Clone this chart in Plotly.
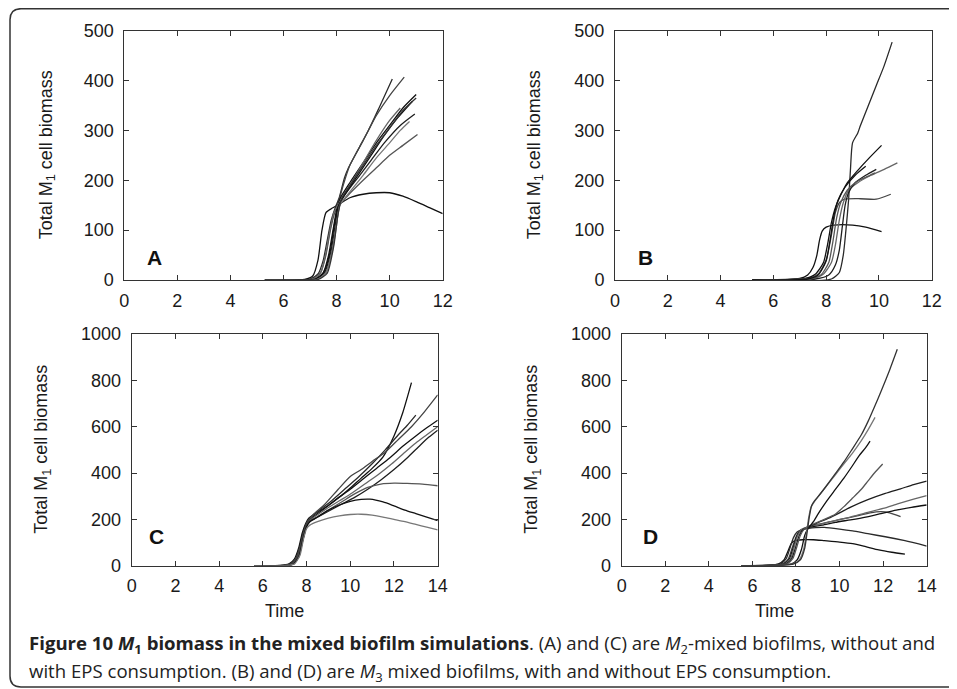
import plotly.graph_objects as go

# ---------------- data ----------------
A_time = [
    [5.3, 6.8, 7.1, 7.3, 7.45, 7.6, 7.8, 8.1, 8.5, 9.0, 9.5, 10.0, 10.5, 11.0, 11.5, 12.0],
    [5.3, 7.0, 7.3, 7.5, 7.65, 7.8, 7.95, 8.1, 8.3, 8.45, 8.8, 9.2, 9.6, 10.1],
    [5.3, 7.1, 7.4, 7.6, 7.75, 7.9, 8.05, 8.25, 8.5, 9.0, 9.5, 10.0, 10.55],
    [5.3, 7.2, 7.5, 7.7, 7.85, 8.0, 8.15, 8.5, 9.0, 9.5, 10.0, 10.5, 11.0],
    [5.3, 7.1, 7.4, 7.6, 7.75, 7.9, 8.1, 8.5, 9.0, 9.5, 10.0, 10.4],
    [5.3, 7.2, 7.55, 7.8, 7.95, 8.08, 8.3, 8.8, 9.3, 9.8, 10.4, 10.95],
    [5.3, 7.3, 7.6, 7.85, 8.0, 8.12, 8.4, 9.0, 9.5, 10.0, 10.5, 11.05],
    [5.3, 7.2, 7.5, 7.75, 7.9, 8.05, 8.3, 8.8, 9.3, 9.8, 10.3, 10.85],
    [5.3, 7.25, 7.6, 7.85, 8.0, 8.12, 8.4, 9.0, 9.5, 10.0, 10.4, 10.75],
    [5.3, 7.3, 7.65, 7.9, 8.05, 8.2, 8.5, 9.0, 9.5, 10.0, 10.5, 11.0],
]
A_biomass = [
    [0, 1, 8, 40, 100, 135, 143, 152, 165, 172, 175, 175, 168, 157, 145, 133],
    [0, 2, 12, 40, 80, 120, 145, 165, 205, 225, 260, 300, 345, 403],
    [0, 2, 15, 50, 95, 130, 152, 190, 230, 280, 330, 370, 407],
    [0, 2, 15, 50, 95, 140, 165, 195, 235, 275, 310, 345, 372],
    [0, 2, 15, 55, 100, 135, 155, 190, 235, 280, 320, 345],
    [0, 1, 15, 60, 110, 150, 170, 205, 240, 275, 310, 333],
    [0, 2, 15, 65, 115, 150, 168, 200, 225, 250, 270, 292],
    [0, 2, 14, 55, 105, 145, 170, 210, 250, 290, 325, 358],
    [0, 1, 14, 60, 110, 150, 170, 210, 245, 275, 300, 318],
    [0, 1, 14, 70, 130, 165, 190, 230, 270, 305, 340, 365],
]

B_time = [
    [5.2, 7.0, 7.3, 7.5, 7.65, 7.75, 7.85, 8.0, 8.3, 9.0, 9.5, 10.1],
    [5.2, 8.2, 8.5, 8.65, 8.75, 8.85, 8.92, 9.0, 9.2, 9.3, 9.6, 9.9, 10.2, 10.5],
    [5.2, 7.3, 7.7, 8.0, 8.2, 8.35, 8.5, 8.7, 9.3, 9.9, 10.45],
    [5.2, 7.2, 7.6, 7.9, 8.05, 8.2, 8.35, 8.55, 8.8, 9.2, 9.6, 10.1],
    [5.2, 7.5, 7.9, 8.2, 8.35, 8.5, 8.65, 8.85, 9.2, 9.7, 10.2, 10.7],
    [5.2, 7.6, 8.1, 8.35, 8.5, 8.62, 8.72, 8.85, 9.1, 9.5, 9.9],
    [5.2, 7.4, 7.8, 8.1, 8.25, 8.4, 8.55, 8.8, 9.1, 9.5, 9.85],
    [5.2, 7.3, 7.7, 8.0, 8.15, 8.3, 8.45, 8.7, 9.1, 9.5],
]
B_biomass = [
    [0, 3, 10, 25, 50, 80, 98, 106, 110, 110, 106, 97],
    [0, 2, 15, 50, 100, 160, 220, 275, 295, 310, 350, 390, 430, 477],
    [0, 3, 12, 40, 90, 135, 155, 162, 163, 162, 172],
    [0, 3, 12, 35, 70, 115, 145, 170, 195, 220, 243, 270],
    [0, 3, 12, 35, 70, 120, 155, 180, 195, 210, 222, 235],
    [0, 2, 10, 30, 60, 110, 150, 175, 195, 210, 222],
    [0, 2, 10, 35, 75, 125, 155, 180, 195, 206, 215],
    [0, 2, 10, 38, 80, 130, 160, 185, 210, 228],
]

C_time = [
    [5.6, 6.8, 7.2, 7.45, 7.65, 7.8, 7.95, 8.1, 8.4, 9.0, 9.5, 10.0, 10.5, 11.0, 11.5, 12.0, 12.4, 12.8],
    [5.6, 6.9, 7.25, 7.5, 7.7, 7.85, 8.0, 8.2, 8.6, 9.2, 9.8, 10.4, 11.0, 11.6, 12.2, 12.6, 13.0],
    [5.6, 6.9, 7.3, 7.55, 7.75, 7.9, 8.05, 8.3, 8.8, 9.45, 10.0, 10.5, 11.0, 11.6, 12.2, 12.8, 13.4, 14.0],
    [5.6, 7.0, 7.35, 7.6, 7.78, 7.93, 8.08, 8.3, 8.8, 9.4, 10.0, 10.6, 11.2, 11.8, 12.4, 13.0, 13.5, 14.0],
    [5.6, 7.0, 7.35, 7.62, 7.8, 7.95, 8.1, 8.35, 8.9, 9.5, 10.1, 10.7, 11.3, 11.9, 12.5, 13.0, 13.5, 14.0],
    [5.6, 7.05, 7.4, 7.65, 7.82, 7.97, 8.12, 8.4, 9.0, 9.6, 10.2, 10.8, 11.4, 12.0, 12.6, 13.2, 13.6, 14.0],
    [5.6, 7.0, 7.35, 7.6, 7.78, 7.93, 8.08, 8.4, 9.0, 9.6, 10.2, 10.8, 11.4, 12.0, 12.6, 13.3, 14.0],
    [5.6, 7.05, 7.4, 7.65, 7.82, 7.98, 8.15, 8.5, 9.0, 9.5, 10.0, 10.5, 10.9, 11.5, 12.0, 12.5, 13.0, 13.5, 14.0],
    [5.6, 7.1, 7.45, 7.7, 7.86, 8.0, 8.15, 8.5, 9.0, 9.5, 10.0, 10.5, 11.0, 11.5, 12.0, 12.5, 13.0, 13.5, 14.0],
]
C_biomass = [
    [0, 1, 8, 30, 80, 140, 180, 205, 225, 260, 295, 335, 378, 420, 470, 560, 660, 790],
    [0, 1, 8, 30, 85, 145, 185, 210, 240, 285, 335, 385, 440, 500, 565, 605, 650],
    [0, 1, 8, 35, 95, 150, 190, 220, 262, 330, 385, 415, 450, 490, 545, 600, 665, 737],
    [0, 1, 8, 35, 95, 150, 188, 210, 245, 290, 330, 375, 420, 465, 515, 560, 595, 628],
    [0, 1, 7, 35, 100, 155, 190, 210, 245, 280, 315, 355, 395, 440, 490, 530, 565, 600],
    [0, 1, 8, 40, 105, 160, 190, 205, 235, 265, 295, 330, 370, 415, 465, 520, 555, 585],
    [0, 1, 8, 35, 100, 155, 185, 205, 240, 275, 310, 338, 352, 356, 355, 352, 345],
    [0, 1, 8, 40, 110, 165, 190, 210, 240, 262, 278, 286, 287, 275, 258, 240, 225, 210, 195],
    [0, 1, 8, 45, 115, 160, 175, 190, 205, 215, 221, 222, 218, 210, 200, 190, 178, 166, 155],
]

D_time = [
    [5.5, 6.8, 7.2, 7.45, 7.62, 7.78, 7.95, 8.3, 8.8, 9.3, 10.0, 10.6, 11.2, 11.8, 12.4, 13.0],
    [5.5, 6.9, 7.3, 7.55, 7.72, 7.88, 8.05, 8.4, 8.9, 9.3, 10.0, 10.6, 11.3, 12.1, 13.0, 14.0],
    [5.5, 7.0, 7.4, 7.65, 7.82, 7.98, 8.15, 8.5, 9.0, 9.6, 10.2, 10.8, 11.4, 11.9, 12.3, 12.8],
    [5.5, 7.05, 7.45, 7.7, 7.88, 8.03, 8.2, 8.6, 9.2, 9.8, 10.5, 11.2, 11.9, 12.6, 13.3, 14.0],
    [5.5, 7.1, 7.5, 7.75, 7.93, 8.08, 8.25, 8.7, 9.2, 9.8, 10.5, 11.2, 12.0, 12.7, 13.4, 14.0],
    [5.5, 7.15, 7.55, 7.8, 8.0, 8.15, 8.35, 8.7, 9.1, 9.5, 10.0, 10.56, 11.3, 12.1, 12.8, 13.4, 14.0],
    [5.5, 7.2, 7.6, 7.85, 8.05, 8.2, 8.4, 8.8, 9.3, 9.8, 10.2, 10.6, 11.0, 11.3, 11.6, 11.98],
    [5.5, 7.3, 7.8, 8.05, 8.25, 8.4, 8.55, 8.8, 9.03, 9.4, 9.79, 10.2, 10.56, 10.9, 11.2, 11.4],
    [5.5, 7.35, 7.85, 8.15, 8.35, 8.48, 8.58, 8.68, 8.8, 9.2, 9.79, 10.2, 10.56, 11.0, 11.3, 11.63],
    [5.5, 7.4, 7.9, 8.2, 8.4, 8.52, 8.62, 8.72, 8.85, 9.03, 9.4, 9.79, 10.2, 10.56, 11.0, 11.32, 11.6, 11.93, 12.3, 12.65],
]
D_biomass = [
    [0, 2, 8, 25, 60, 95, 108, 112, 112, 108, 102, 95, 82, 68, 58, 50],
    [0, 2, 8, 30, 75, 120, 145, 158, 164, 165, 158, 150, 138, 125, 108, 85],
    [0, 2, 8, 30, 75, 120, 150, 165, 178, 190, 203, 215, 228, 233, 228, 212],
    [0, 2, 8, 30, 80, 125, 150, 165, 175, 187, 198, 210, 225, 240, 252, 262],
    [0, 2, 8, 30, 85, 130, 155, 172, 180, 195, 210, 228, 247, 268, 287, 302],
    [0, 2, 8, 30, 85, 130, 158, 172, 190, 205, 228, 255, 285, 312, 332, 350, 365],
    [0, 2, 8, 30, 85, 130, 160, 180, 200, 222, 255, 292, 330, 365, 400, 439],
    [0, 2, 8, 25, 70, 130, 160, 190, 226, 278, 327, 378, 427, 475, 510, 538],
    [0, 2, 8, 25, 70, 140, 205, 250, 270, 320, 390, 440, 482, 540, 585, 640],
    [0, 2, 8, 25, 75, 150, 215, 260, 280, 300, 345, 395, 448, 500, 565, 625, 685, 758, 845, 934],
]

panel_letters = ["A", "B", "C", "D"]
letter_pos = [(1.15, 46), (1.14, 46), (1.14, 125), (1.3, 125)]
x_max = [12, 12, 14, 14]
y_max = [500, 500, 1000, 1000]
y_step = [100, 100, 200, 200]
y_title = "Total M<sub>1</sub> cell biomass"
x_title = "Time"
caption_lines = [
    ("<b>Figure 10 <i>M</i><sub>1</sub> biomass in the mixed biofilm simulations</b>. "
     "(A) and (C) are <i>M</i><sub>2</sub>-mixed biofilms, without and"),
    ("with EPS consumption. (B) and (D) are <i>M</i><sub>3</sub> mixed biofilms, "
     "with and without EPS consumption."),
]
caption_y = [643.5, 671.5]

# ---------------- layout geometry ----------------
# the page body has an 8px margin, so the figure is sized to fill the rest of the window
PAGE_OFF = 8
FW, FH = 957 - PAGE_OFF, 689 - PAGE_OFF

boxes = [  # left, right, top, bottom, in window pixels
    (124.3, 442.7, 30.7, 280.0),
    (615.0, 931.7, 30.7, 280.0),
    (131.7, 437.7, 334.0, 565.7),
    (621.7, 926.7, 334.0, 565.7),
]
ytitle_x = [47, 535, 43, 533]


def px_x(v):
    return (v - PAGE_OFF) / FW


def px_y(v):
    return 1 - (v - PAGE_OFF) / FH


colors = ["#111111", "#2a2a2a", "#444444", "#111111", "#666666", "#1e1e1e", "#555555", "#111111", "#777777", "#333333"]

panels = [(A_time, A_biomass), (B_time, B_biomass), (C_time, C_biomass), (D_time, D_biomass)]

fig = go.Figure()
FONT = "Liberation Sans, Arial, sans-serif"

for i, (times, vals) in enumerate(panels):
    sfx = "" if i == 0 else str(i + 1)
    for k, (tx, vy) in enumerate(zip(times, vals)):
        fig.add_trace(go.Scatter(
            x=tx, y=vy, mode="lines",
            line=dict(color=colors[k % len(colors)], width=1.3, shape="spline", smoothing=0.6),
            xaxis="x" + sfx, yaxis="y" + sfx, showlegend=False, hoverinfo="skip"))
    l, r, t, b = boxes[i]
    axcommon = dict(showline=True, linecolor="#333333", linewidth=1, mirror="ticks",
                    ticks="inside", ticklen=5, tickcolor="#333333", tickwidth=1,
                    showgrid=False, zeroline=False, automargin=False,
                    tickfont=dict(family=FONT, size=18, color="#1a1a1a"))
    fig.update_layout(**{
        "xaxis" + sfx: dict(domain=[px_x(l), px_x(r)], range=[0, x_max[i]], dtick=2, tick0=0,
                            anchor="y" + sfx, ticklabelstandoff=4, **axcommon),
        "yaxis" + sfx: dict(domain=[px_y(b), px_y(t)], range=[0, y_max[i]], dtick=y_step[i], tick0=0,
                            anchor="x" + sfx, ticklabelstandoff=6, **axcommon),
    })
    fig.add_annotation(x=letter_pos[i][0], y=letter_pos[i][1], xref="x" + sfx, yref="y" + sfx,
                       xanchor="center", yanchor="middle",
                       text="<b>" + panel_letters[i] + "</b>", showarrow=False,
                       font=dict(family=FONT, size=21, color="#111111"))
    fig.add_annotation(x=px_x(ytitle_x[i]), y=px_y((t + b) / 2), xref="paper", yref="paper",
                       xanchor="center", yanchor="middle",
                       text=y_title, textangle=-90, showarrow=False,
                       font=dict(family=FONT, size=18, color="#1a1a1a"))
    if i >= 2:
        fig.add_annotation(x=px_x((l + r) / 2), y=px_y(611), xref="paper", yref="paper",
                           xanchor="center", yanchor="middle",
                           text=x_title, showarrow=False,
                           font=dict(family=FONT, size=18, color="#1a1a1a"))

# caption, one text per line
for txt, yy in zip(caption_lines, caption_y):
    fig.add_annotation(x=px_x(27), y=px_y(yy), xref="paper", yref="paper",
                       xanchor="left", yanchor="middle", align="left",
                       text=txt, showarrow=False,
                       font=dict(family="Open Sans, sans-serif", size=18.6, color="#222222"))

# rounded frame around the whole figure (right edge lies outside the window)
lx, ty, by, rx = px_x(10), px_y(8.7), px_y(687), 1.02
cr_x, cr_y = 11 / FW, 11 / FH
frame = (f"M {rx},{ty} L {lx + cr_x},{ty} Q {lx},{ty} {lx},{ty - cr_y} "
         f"L {lx},{by + cr_y} Q {lx},{by} {lx + cr_x},{by} L {rx},{by}")
fig.add_shape(type="path", path=frame, xref="paper", yref="paper",
              line=dict(color="#333333", width=1.5))

fig.update_layout(width=FW, height=FH, margin=dict(l=0, r=0, t=0, b=0),
                  paper_bgcolor="white", plot_bgcolor="white")

fig.write_html("out.html")
